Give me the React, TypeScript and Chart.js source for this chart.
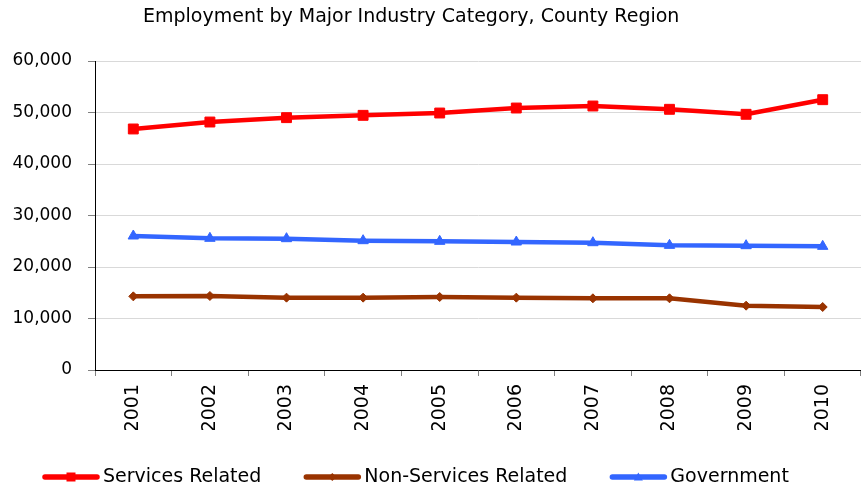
import React, { useEffect, useRef } from 'react';
import { Chart, registerables } from 'chart.js';

Chart.register(...registerables);

const TITLE = 'Employment by Major Industry Category, County Region';
const YEARS = ['2001', '2002', '2003', '2004', '2005', '2006', '2007', '2008', '2009', '2010'];
const SERVICES = [46800, 48150, 49000, 49450, 49900, 50870, 51260, 50620, 49650, 52490];
const NON_SERVICES = [14300, 14370, 14050, 14050, 14170, 14050, 13920, 13920, 12490, 12230];
const GOVERNMENT = [26020, 25570, 25500, 25110, 24980, 24850, 24720, 24200, 24140, 24010];
const Y_MIN = 0;
const Y_MAX = 60000;
const Y_STEP = 10000;

const FONT = 'DejaVu Sans';

function drawMarker(ctx: CanvasRenderingContext2D, style: string, x: number, y: number, color: string, r: number) {
  ctx.save();
  ctx.fillStyle = color;
  ctx.beginPath();
  if (style === 'rect') {
    ctx.rect(x - r, y - r, 2 * r, 2 * r);
  } else if (style === 'rectRot') {
    ctx.moveTo(x, y - r);
    ctx.lineTo(x + r, y);
    ctx.lineTo(x, y + r);
    ctx.lineTo(x - r, y);
    ctx.closePath();
  } else {
    ctx.moveTo(x, y - r);
    ctx.lineTo(x + r, y + r * 0.8);
    ctx.lineTo(x - r, y + r * 0.8);
    ctx.closePath();
  }
  ctx.fill();
  ctx.restore();
}

const titlePlugin = {
  id: 'titleText',
  afterDraw(chart: any) {
    const ctx = chart.ctx as CanvasRenderingContext2D;
    ctx.save();
    ctx.font = `19px "${FONT}"`;
    ctx.fillStyle = '#000';
    ctx.textAlign = 'left';
    ctx.textBaseline = 'alphabetic';
    ctx.fillText(TITLE, 143, 22);
    ctx.restore();
  },
};

const legendPlugin = {
  id: 'lineLegend',
  afterDraw(chart: any) {
    const ctx = chart.ctx as CanvasRenderingContext2D;
    ctx.save();
    ctx.font = `19px "${FONT}"`;
    let x = 43;
    const y = 477;
    const sizes: Record<string, number> = { rect: 4.5, rectRot: 4, triangle: 4.5 };
    chart.data.datasets.forEach((ds: any) => {
      ctx.strokeStyle = ds.borderColor;
      ctx.lineWidth = 5.5;
      ctx.lineCap = 'round';
      ctx.beginPath();
      ctx.moveTo(x + 2, y);
      ctx.lineTo(x + 54, y);
      ctx.stroke();
      drawMarker(ctx, ds.pointStyle, x + 28, y, ds.borderColor, sizes[ds.pointStyle] || 4);
      ctx.fillStyle = '#000';
      ctx.textAlign = 'left';
      ctx.textBaseline = 'middle';
      ctx.fillText(ds.label, x + 60, y);
      x += 60 + ctx.measureText(ds.label).width + 43;
    });
    ctx.restore();
  },
};

export default function App() {
  const ref = useRef<HTMLCanvasElement>(null);

  useEffect(() => {
    if (!ref.current) return;
    const chart = new Chart(ref.current, {
      type: 'line',
      data: {
        labels: YEARS,
        datasets: [
          {
            label: 'Services Related',
            data: SERVICES,
            borderColor: '#FF0000',
            backgroundColor: '#FF0000',
            borderWidth: 4.5,
            pointStyle: 'rect',
            pointRadius: 7,
            pointBorderWidth: 1,
            tension: 0,
          },
          {
            label: 'Non-Services Related',
            data: NON_SERVICES,
            borderColor: '#993300',
            backgroundColor: '#993300',
            borderWidth: 4.5,
            pointStyle: 'rectRot',
            pointRadius: 4.5,
            pointBorderWidth: 1,
            tension: 0,
          },
          {
            label: 'Government',
            data: GOVERNMENT,
            borderColor: '#3366FF',
            backgroundColor: '#3366FF',
            borderWidth: 4.5,
            pointStyle: 'triangle',
            pointRadius: 6,
            pointBorderWidth: 1,
            tension: 0,
          },
        ],
      },
      options: {
        responsive: false,
        animation: false,
        layout: { autoPadding: false, padding: { left: 12, top: 61, right: 0, bottom: 59 } },
        plugins: {
          legend: { display: false },
          title: { display: false },
          tooltip: { enabled: false },
        },
        scales: {
          x: {
            type: 'category',
            offset: true,
            grid: {
              offset: true,
              drawOnChartArea: false,
              drawTicks: true,
              tickLength: 6,
              tickColor: '#808080',
            },
            border: { color: '#000', width: 1 },
            ticks: {
              minRotation: 90,
              maxRotation: 90,
              autoSkip: false,
              padding: 8,
              color: '#000',
              font: { family: FONT, size: 19 },
            },
            afterFit: (s: any) => {
              s.height = 60;
              s.paddingLeft = 0;
              s.paddingRight = 0;
            },
          },
          y: {
            min: Y_MIN,
            max: Y_MAX,
            ticks: {
              stepSize: Y_STEP,
              padding: 16,
              color: '#000',
              font: { family: FONT, size: 17 },
              callback: (v: any) => Number(v).toLocaleString('en-US'),
            },
            grid: { color: '#d9d9d9', tickColor: '#808080', tickLength: 7 },
            border: { color: '#000', width: 1 },
            afterFit: (s: any) => {
              s.width = 83;
              s.paddingTop = 0;
              s.paddingBottom = 0;
            },
          },
        },
      },
      plugins: [titlePlugin, legendPlugin],
    });
    return () => chart.destroy();
  }, []);

  return (
    <div style={{ position: 'absolute', left: 0, top: 0, width: 861, height: 489, background: '#fff' }}>
      <canvas ref={ref} width={861} height={489} style={{ width: '861px', height: '489px', display: 'block' }} />
    </div>
  );
}
